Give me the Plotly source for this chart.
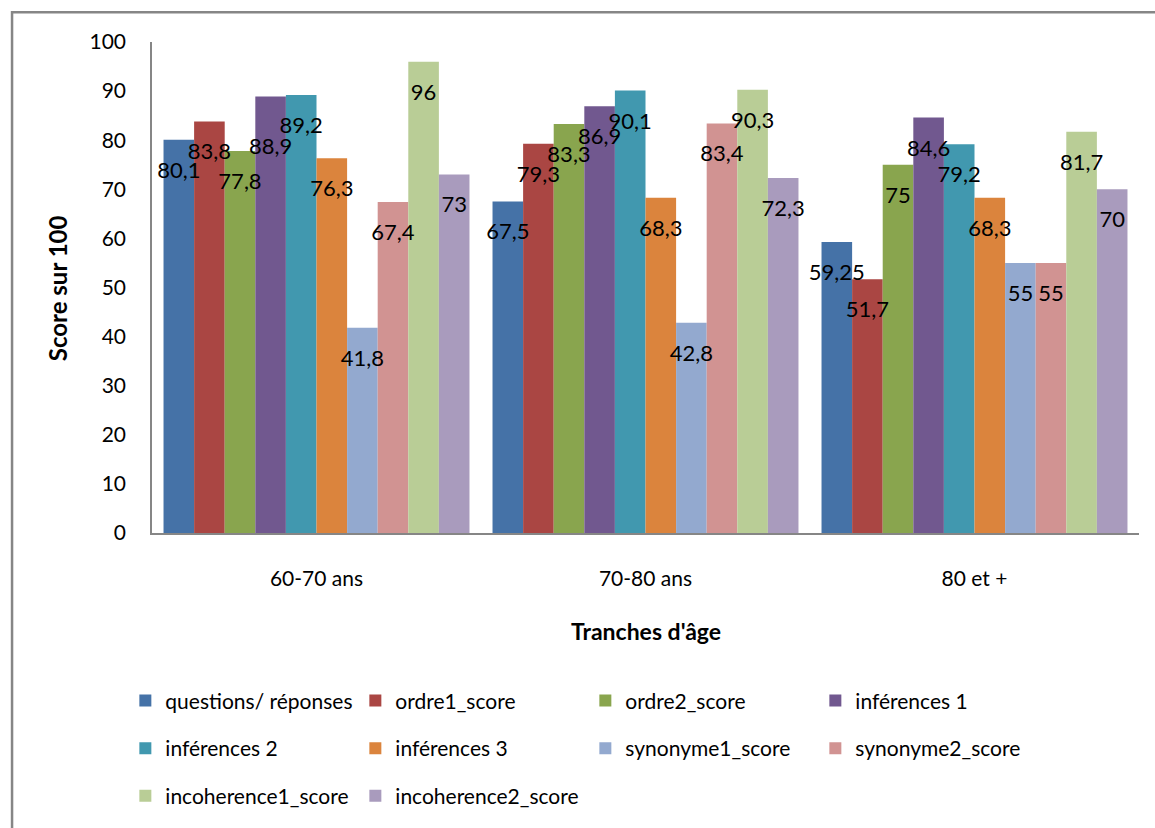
import plotly.graph_objects as go

categories = ["60-70 ans", "70-80 ans", "80 et +"]
series_names = [
    "questions/ réponses", "ordre1_score", "ordre2_score", "inférences 1",
    "inférences 2", "inférences 3", "synonyme1_score", "synonyme2_score",
    "incoherence1_score", "incoherence2_score",
]
questions_reponses = [80.1, 67.5, 59.25]
ordre1_score = [83.8, 79.3, 51.7]
ordre2_score = [77.8, 83.3, 75]
inferences_1 = [88.9, 86.9, 84.6]
inferences_2 = [89.2, 90.1, 79.2]
inferences_3 = [76.3, 68.3, 68.3]
synonyme1_score = [41.8, 42.8, 55]
synonyme2_score = [67.4, 83.4, 55]
incoherence1_score = [96, 90.3, 81.7]
incoherence2_score = [73, 72.3, 70]
series_values = [
    questions_reponses, ordre1_score, ordre2_score, inferences_1, inferences_2,
    inferences_3, synonyme1_score, synonyme2_score, incoherence1_score,
    incoherence2_score,
]
colors = ["#4572A7", "#AA4643", "#89A54E", "#71588F", "#4198AF",
          "#DB843D", "#93A9CF", "#D19392", "#B9CD96", "#A99BBD"]
legend_rows = ["legend", "legend", "legend", "legend",
               "legend2", "legend2", "legend2", "legend2",
               "legend3", "legend3"]

# label layout (Excel "inside end" labels sit ~30px under the bar end)
LABEL_DROP = 6.6
# extra drop for a label moved to avoid overlapping its neighbour
LABEL_NUDGE = {(3, 0): 4.0}
FONT = "Lato"


def fr(v):
    return ("%g" % v).replace(".", ",")


fig = go.Figure()
for i, (name, vals) in enumerate(zip(series_names, series_values)):
    fig.add_trace(go.Bar(
        x=categories, y=vals, name=name, marker_color=colors[i],
        marker_line_width=0, offsetgroup=str(i), legend=legend_rows[i],
        hoverinfo="y",
    ))
for i, (name, vals) in enumerate(zip(series_names, series_values)):
    ys = [v - LABEL_DROP - LABEL_NUDGE.get((i, j), 0) for j, v in enumerate(vals)]
    fig.add_trace(go.Scatter(
        x=categories, y=ys, mode="text",
        text=[fr(v) for v in vals], textposition="middle center",
        textfont=dict(family=FONT, size=22, color="#000000"),
        offsetgroup=str(i), showlegend=False, cliponaxis=False,
        hoverinfo="skip",
    ))

legend_common = dict(
    orientation="h", entrywidth=185, entrywidthmode="pixels",
    xanchor="left", yanchor="middle", x=-0.027,
    font=dict(family=FONT, size=21, color="#000000"),
    bgcolor="rgba(0,0,0,0)", traceorder="normal",
)

fig.update_layout(
    width=1155, height=828,
    margin=dict(l=152, r=16, t=42, b=292),
    paper_bgcolor="white", plot_bgcolor="white",
    barmode="group", bargap=0.07, bargroupgap=0,
    scattermode="group", scattergap=0.07,
    showlegend=True,
    legend=dict(legend_common, y=-0.342),
    legend2=dict(legend_common, y=-0.439),
    legend3=dict(legend_common, y=-0.536),
    font=dict(family=FONT, color="#000000"),
    xaxis=dict(
        showline=True, linecolor="#868686", linewidth=1.5,
        showgrid=False, ticks="", ticklabelstandoff=26,
        tickfont=dict(family=FONT, size=21, color="#000000"),
        zeroline=False,
    ),
    yaxis=dict(
        range=[0, 100], dtick=10, showline=True, linecolor="#868686",
        linewidth=1.5, showgrid=False, ticks="", ticklabelstandoff=20,
        tickfont=dict(family=FONT, size=21, color="#000000"),
        zeroline=False,
    ),
    annotations=[
        dict(text="<b>Score sur 100</b>", xref="paper", yref="paper",
             x=-0.095, y=0.499, textangle=-90, showarrow=False,
             xanchor="center", yanchor="middle",
             font=dict(family=FONT, size=24, color="#000000")),
        dict(text="<b>Tranches d'âge</b>", xref="paper", yref="paper",
             x=0.5, y=-0.199, showarrow=False,
             xanchor="center", yanchor="middle",
             font=dict(family=FONT, size=23, color="#000000")),
    ],
    shapes=[
        dict(type="rect", xref="paper", yref="paper",
             x0=-0.1418, y0=-0.62, x1=1.03, y1=1.0607,
             line=dict(color="#868686", width=2.5),
             fillcolor="rgba(0,0,0,0)", layer="below"),
    ],
)

fig.write_html("out.html")
